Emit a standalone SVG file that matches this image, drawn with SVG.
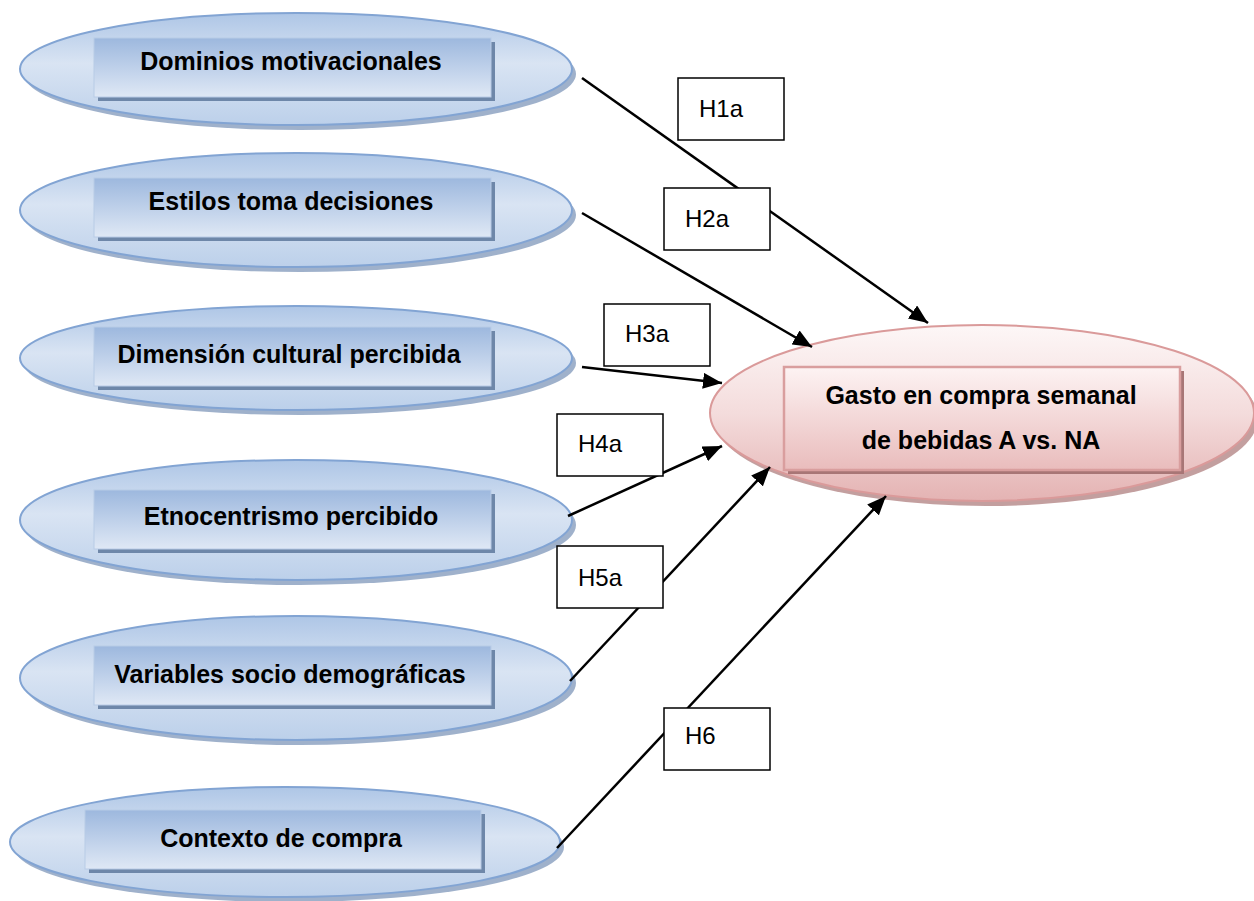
<svg xmlns="http://www.w3.org/2000/svg" width="1254" height="901" viewBox="0 0 1254 901">
<defs>
<linearGradient id="gBlueE" x1="0" y1="0" x2="0" y2="1">
<stop offset="0" stop-color="#aec6e6"/><stop offset="0.45" stop-color="#d9e4f3"/><stop offset="1" stop-color="#bcd0ea"/>
</linearGradient>
<linearGradient id="gBlueR" x1="0" y1="0" x2="0" y2="1">
<stop offset="0" stop-color="#9db8de"/><stop offset="1" stop-color="#dfe8f5"/>
</linearGradient>
<linearGradient id="gPinkE" x1="0" y1="0" x2="0" y2="1">
<stop offset="0" stop-color="#fdf7f7"/><stop offset="0.5" stop-color="#f4dcdc"/><stop offset="1" stop-color="#e4b3b3"/>
</linearGradient>
<linearGradient id="gPinkR" x1="0" y1="0" x2="0" y2="1">
<stop offset="0" stop-color="#fdf3f3"/><stop offset="1" stop-color="#e9bcbc"/>
</linearGradient>
<marker id="arr" markerUnits="userSpaceOnUse" markerWidth="20" markerHeight="16" refX="19" refY="8" orient="auto">
<path d="M0,0 L19,8 L0,16 z" fill="#000"/>
</marker>
</defs>
<style>
.esh{fill:#8ea3c2;opacity:0.85}
.ell{fill:url(#gBlueE);stroke:#82a4d3;stroke-width:2}
.rsh{fill:#6e87a9}
.rct{fill:url(#gBlueR);stroke:#b8cbe6;stroke-width:1}
.pesh{fill:#b88e8e;opacity:0.85}
.pell{fill:url(#gPinkE);stroke:#da9a9a;stroke-width:2}
.prsh{fill:#a87676}
.prct{fill:url(#gPinkR);stroke:#d99e9e;stroke-width:2.5}
.t{font-family:"Liberation Sans",Arial,sans-serif;font-weight:bold;font-size:25px;fill:#000;text-anchor:middle}
.con{stroke:#000;stroke-width:2.5;fill:none}
.lb{fill:#fff;stroke:#000;stroke-width:1.5}
.lt{font-family:"Liberation Sans",Arial,sans-serif;font-size:24px;fill:#000}
</style>

<g id="n1">
<ellipse class="esh" cx="300" cy="74" rx="276" ry="56"/>
<ellipse class="ell" cx="296" cy="69" rx="276" ry="56"/>
<rect class="rsh" x="98" y="42" width="397" height="59"/>
<rect class="rct" x="94" y="38" width="397" height="59"/>
<text class="t" x="291" y="70">Dominios motivacionales</text>
</g>
<g id="n2">
<ellipse class="esh" cx="300" cy="215" rx="276" ry="57"/>
<ellipse class="ell" cx="296" cy="210" rx="276" ry="57"/>
<rect class="rsh" x="98" y="182" width="397" height="59"/>
<rect class="rct" x="94" y="178" width="397" height="59"/>
<text class="t" x="291" y="210">Estilos toma decisiones</text>
</g>
<g id="n3">
<ellipse class="esh" cx="300" cy="363" rx="276" ry="52"/>
<ellipse class="ell" cx="296" cy="358" rx="276" ry="52"/>
<rect class="rsh" x="98" y="331" width="397" height="59"/>
<rect class="rct" x="94" y="327" width="397" height="59"/>
<text class="t" x="289" y="363">Dimensión cultural percibida</text>
</g>
<g id="n4">
<ellipse class="esh" cx="300" cy="525" rx="276" ry="60"/>
<ellipse class="ell" cx="296" cy="520" rx="276" ry="60"/>
<rect class="rsh" x="98" y="494" width="397" height="59"/>
<rect class="rct" x="94" y="490" width="397" height="59"/>
<text class="t" x="291" y="525">Etnocentrismo percibido</text>
</g>
<g id="n5">
<ellipse class="esh" cx="300" cy="683" rx="276" ry="62"/>
<ellipse class="ell" cx="296" cy="678" rx="276" ry="62"/>
<rect class="rsh" x="98" y="650" width="397" height="59"/>
<rect class="rct" x="94" y="646" width="397" height="59"/>
<text class="t" x="290" y="683">Variables socio demográficas</text>
</g>
<g id="n6">
<ellipse class="esh" cx="289" cy="847" rx="275" ry="55"/>
<ellipse class="ell" cx="285" cy="842" rx="275" ry="55"/>
<rect class="rsh" x="89" y="814" width="396" height="59"/>
<rect class="rct" x="85" y="810" width="396" height="59"/>
<text class="t" x="281" y="847">Contexto de compra</text>
</g>
<g id="target">
<ellipse class="pesh" cx="986" cy="418" rx="272" ry="88"/>
<ellipse class="pell" cx="982" cy="413" rx="272" ry="88"/>
<rect class="prsh" x="788" y="371" width="396" height="103"/>
<rect class="prct" x="784" y="367" width="396" height="103"/>
<text class="t" x="981" y="404">Gasto en compra semanal</text>
<text class="t" x="981" y="449">de bebidas A vs. NA</text>
</g>

<g id="connectors">
<line class="con" x1="582" y1="78" x2="928" y2="323" marker-end="url(#arr)"/>
<line class="con" x1="582" y1="213" x2="812" y2="347" marker-end="url(#arr)"/>
<line class="con" x1="582" y1="367" x2="722" y2="383" marker-end="url(#arr)"/>
<line class="con" x1="568" y1="516" x2="722" y2="446" marker-end="url(#arr)"/>
<line class="con" x1="570" y1="681" x2="770" y2="467" marker-end="url(#arr)"/>
<line class="con" x1="557" y1="848" x2="886" y2="496" marker-end="url(#arr)"/>
</g>

<g id="labels">
<g id="h1a"><rect class="lb" x="678" y="78" width="106" height="62"/><text class="lt" x="699" y="117">H1a</text></g>
<g id="h2a"><rect class="lb" x="664" y="188" width="106" height="62"/><text class="lt" x="685" y="227">H2a</text></g>
<g id="h3a"><rect class="lb" x="604" y="304" width="106" height="62"/><text class="lt" x="625" y="342">H3a</text></g>
<g id="h4a"><rect class="lb" x="557" y="414" width="106" height="62"/><text class="lt" x="578" y="452">H4a</text></g>
<g id="h5a"><rect class="lb" x="557" y="546" width="106" height="62"/><text class="lt" x="578" y="586">H5a</text></g>
<g id="h6"><rect class="lb" x="664" y="708" width="106" height="62"/><text class="lt" x="685" y="744">H6</text></g>
</g>
</svg>
